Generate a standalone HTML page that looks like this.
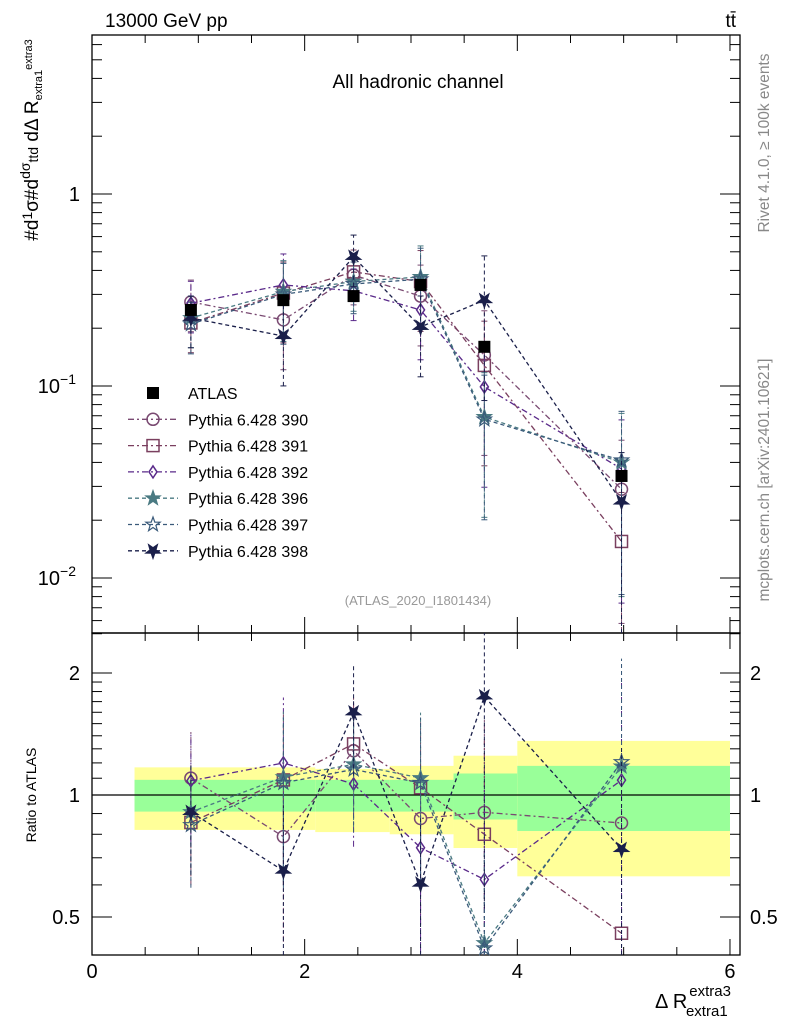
<!DOCTYPE html>
<html><head><meta charset="utf-8"><style>
body{margin:0;background:#fff;}
svg{display:block;font-family:"Liberation Sans",sans-serif;}
</style></head><body>
<svg id="chart" width="786" height="1024" viewBox="0 0 786 1024">
<g id="bands"></g>
<g id="axes"></g>
<g id="series"></g>
<text x="105" y="27" font-size="19">13000 GeV pp</text>
<text x="736" y="27" font-size="19" text-anchor="end">tt̄</text>
<text x="418" y="88" font-size="19" text-anchor="middle">All hadronic channel</text>
<text x="418" y="605" font-size="13" fill="#999" text-anchor="middle">(ATLAS_2020_I1801434)</text>
<text transform="translate(769,143) rotate(-90)" font-size="15.5" fill="#888" text-anchor="middle">Rivet 4.1.0, ≥ 100k events</text>
<text transform="translate(769,480) rotate(-90)" font-size="15.5" fill="#888" text-anchor="middle">mcplots.cern.ch [arXiv:2401.10621]</text>
<text transform="translate(38,140) rotate(-90)" font-size="19" text-anchor="middle">#d<tspan font-size="14" dy="-6">1</tspan><tspan dy="6">σ</tspan>#d<tspan font-size="14" dy="-8">dσ</tspan><tspan font-size="14" dy="8">ttd</tspan> dΔ R<tspan font-size="11" dy="4">extra1</tspan><tspan font-size="11" dy="-10">extra3</tspan></text>
<text transform="translate(36,795) rotate(-90)" font-size="14" text-anchor="middle">Ratio to ATLAS</text>
<text x="655" y="1008" font-size="20">Δ R<tspan font-size="15" dx="2" dy="-12">extra3</tspan><tspan font-size="15" dx="-45" dy="20">extra1</tspan></text>
<g id="legend"></g>
</svg>
<script>
const xCenters=[0.93,1.8,2.46,3.09,3.69,4.98];
const atlas=[0.249,0.28,0.294,0.336,0.16,0.034];
const binEdges=[0.4,1.5,2.1,2.8,3.4,4.0,6.0];
const greenHi=[1.09,1.09,1.09,1.09,1.13,1.18];
const greenLo=[0.91,0.91,0.91,0.91,0.87,0.815];
const yellowHi=[1.17,1.17,1.16,1.18,1.25,1.36];
const yellowLo=[0.82,0.82,0.81,0.80,0.74,0.63];
const mcErr=[0.3,0.45,0.3,0.45,0.7,0.8];
const s390=[0.274,0.221,0.378,0.294,0.145,0.029];
const s391=[0.213,0.305,0.393,0.35,0.128,0.0155];
const s392=[0.27,0.336,0.313,0.249,0.099,0.037];
const s396=[0.226,0.31,0.35,0.37,0.069,0.04];
const s397=[0.21,0.30,0.34,0.36,0.067,0.041];
const s398=[0.226,0.182,0.47,0.203,0.28,0.025];
const xTicks=[0,2,4,6];
const series=[
 {name:"Pythia 6.428 390",v:s390,c:"#7a4a72",m:"circle",d:"6,3,2,3"},
 {name:"Pythia 6.428 391",v:s391,c:"#7a3f5f",m:"square",d:"6,3,2,3"},
 {name:"Pythia 6.428 392",v:s392,c:"#5a2a8a",m:"diamond",d:"6,3,2,3"},
 {name:"Pythia 6.428 396",v:s396,c:"#4a7a82",m:"star",d:"4,3"},
 {name:"Pythia 6.428 397",v:s397,c:"#3a5a7a",m:"ostar",d:"4,3"},
 {name:"Pythia 6.428 398",v:s398,c:"#1a1f4a",m:"tri",d:"4,3"}];
const NS="http://www.w3.org/2000/svg";
const L=92,R=740;
const X=x=>92+x*106.33;
const Y=v=>194-Math.log10(v)*192;
const YR=r=>795-Math.log2(r)*122;
const TOP=35,MID=633,BOT=955;
function mk(tag,at,par){const e=document.createElementNS(NS,tag);for(const k in at)e.setAttribute(k,at[k]);par.appendChild(e);return e;}
const clampT=y=>Math.max(TOP,Math.min(MID,y)), clampR=y=>Math.max(MID,Math.min(BOT,y));
const bg=document.getElementById('bands');
for(let i=0;i<6;i++){
 const x0=X(binEdges[i]),x1=X(binEdges[i+1]);
 const a=mk('rect',{x:x0,y:YR(yellowHi[i]),width:x1-x0,height:YR(yellowLo[i])-YR(yellowHi[i]),fill:"#ffff99"},bg);
 
 const b=mk('rect',{x:x0,y:YR(greenHi[i]),width:x1-x0,height:YR(greenLo[i])-YR(greenHi[i]),fill:"#99ff99"},bg);
 
}
const ax=document.getElementById('axes');
mk('line',{x1:L,x2:R,y1:YR(1),y2:YR(1),stroke:"#000","stroke-width":1.3},ax);
mk('rect',{x:L,y:TOP,width:R-L,height:MID-TOP,fill:"none",stroke:"#000","stroke-width":1.3},ax);
mk('rect',{x:L,y:MID,width:R-L,height:BOT-MID,fill:"none",stroke:"#000","stroke-width":1.3},ax);
for(let x=0;x<=6.01;x+=0.5){
 const maj=Math.abs(x-Math.round(x/2)*2)<0.01, len=maj?16:8, px=X(x);
 [[MID,MID-len],[TOP,TOP+len],[BOT,BOT-len],[MID,MID+len]].forEach(p=>mk('line',{x1:px,x2:px,y1:p[0],y2:p[1],stroke:"#000"},ax));
}
xTicks.forEach(t=>{const e=mk('text',{x:X(t),y:978,"font-size":20,"text-anchor":"middle"},ax);e.textContent=t;});
for(let d=-3;d<=0;d++)for(let k=1;k<=9;k++){const v=k*Math.pow(10,d),py=Y(v);if(py<TOP||py>MID)continue;const len=k==1?20:10;
 mk('line',{x1:L,x2:L+len,y1:py,y2:py,stroke:"#000"},ax);mk('line',{x1:R,x2:R-len,y1:py,y2:py,stroke:"#000"},ax);}
[["1",1],["10",0.1],["10",0.01]].forEach((t,i)=>{const e=mk('text',{x:i==0?80:76,y:Y(t[1])+7,"font-size":20,"text-anchor":"end"},ax);e.textContent=t[0];
 if(i>0){const s=mk('tspan',{"font-size":14,dy:-9},e);s.textContent=i==1?"−1":"−2";}
 });
[0.5,0.6,0.7,0.8,0.9,1,1.1,1.2,1.3,1.4,1.5,1.6,1.7,1.8,1.9,2,2.5].forEach(r=>{const py=YR(r);if(py<MID||py>BOT)return;const len=(r==0.5||r==1||r==2)?20:10;
 mk('line',{x1:L,x2:L+len,y1:py,y2:py,stroke:"#000"},ax);mk('line',{x1:R,x2:R-len,y1:py,y2:py,stroke:"#000"},ax);});
[[1,"1"],[2,"2"],[0.5,"0.5"]].forEach(t=>{[[80,"end"],[750,"start"]].forEach(p=>{const e=mk('text',{x:p[0],y:YR(t[0])+7,"font-size":20,"text-anchor":p[1]},ax);e.textContent=t[1];});});
function marker(g,m,x,y,c,s){s=s||1;
 if(m=="square"){mk('rect',{x:x-6*s,y:y-6*s,width:12*s,height:12*s,fill:"none",stroke:c,"stroke-width":1.5},g);}
 else if(m=="fsquare"){mk('rect',{x:x-6,y:y-6,width:12,height:12,fill:c},g);}
 else if(m=="circle"){mk('circle',{cx:x,cy:y,r:6,fill:"none",stroke:c,"stroke-width":1.5},g);}
 else if(m=="diamond"){mk('polygon',{points:`${x},${y-6} ${x+4},${y} ${x},${y+6} ${x-4},${y}`,fill:"none",stroke:c,"stroke-width":1.5},g);}
 else{let p=[];for(let i=0;i<10;i++){const a=Math.PI/5*i+(m=="tri"?Math.PI:0),r=i%2?3:7.5;p.push((x+r*Math.sin(a)).toFixed(1)+","+(y-r*Math.cos(a)).toFixed(1));}
  mk('polygon',{points:p.join(" "),fill:m=="ostar"?"none":c,stroke:c,"stroke-width":1.2},g);}
}
const sg=document.getElementById('series');
series.forEach((s,si)=>{
 const g=mk('g',{},sg);
 const pt=[],pr=[];
 s.v.forEach((v,i)=>{pt.push(X(xCenters[i])+","+Y(v));pr.push(X(xCenters[i])+","+YR(v/atlas[i]));});
 mk('polyline',{points:pt.join(" "),fill:"none",stroke:s.c,"stroke-width":1.3,"stroke-dasharray":s.d},g);
 mk('polyline',{points:pr.join(" "),fill:"none",stroke:s.c,"stroke-width":1.3,"stroke-dasharray":s.d},g);
 s.v.forEach((v,i)=>{const px=X(xCenters[i]),e=mcErr[i],r=v/atlas[i];
  const lo=Math.max(v*(1-e),1e-4),hi=v*(1+e);
  mk('line',{x1:px,x2:px,y1:clampT(Y(lo)),y2:clampT(Y(hi)),stroke:s.c,"stroke-dasharray":s.d},g);
  mk('line',{x1:px,x2:px,y1:clampR(YR(Math.max(r*(1-e),1e-3))),y2:clampR(YR(r*(1+e))),stroke:s.c,"stroke-dasharray":s.d},g);
  [Y(hi),Y(lo)].forEach(yy=>{if(yy>TOP&&yy<MID)mk('line',{x1:px-3,x2:px+3,y1:yy,y2:yy,stroke:s.c},g);});
  const m1=mk('g',{},g);
  marker(m1,s.m,px,Y(v),s.c);marker(m1,s.m,px,YR(r),s.c);
 });
});
const ag=mk('g',{},sg);
atlas.forEach((v,i)=>{marker(ag,"fsquare",X(xCenters[i]),Y(v),"#000");});
const lg=document.getElementById('legend');
const rows=[{name:"ATLAS",m:"fsquare",c:"#000"}].concat(series);
rows.forEach((s,i)=>{const y=393+i*26.3;
 const g=mk('g',{},lg);
 if(i>0)mk('line',{x1:128,x2:178,y1:y,y2:y,stroke:s.c,"stroke-width":1.3,"stroke-dasharray":s.d},g);
 marker(g,s.m,153,y,s.c);
 const t=mk('text',{x:188,y:y+6,"font-size":16},g);t.textContent=s.name;
});
</script>
</body></html>
